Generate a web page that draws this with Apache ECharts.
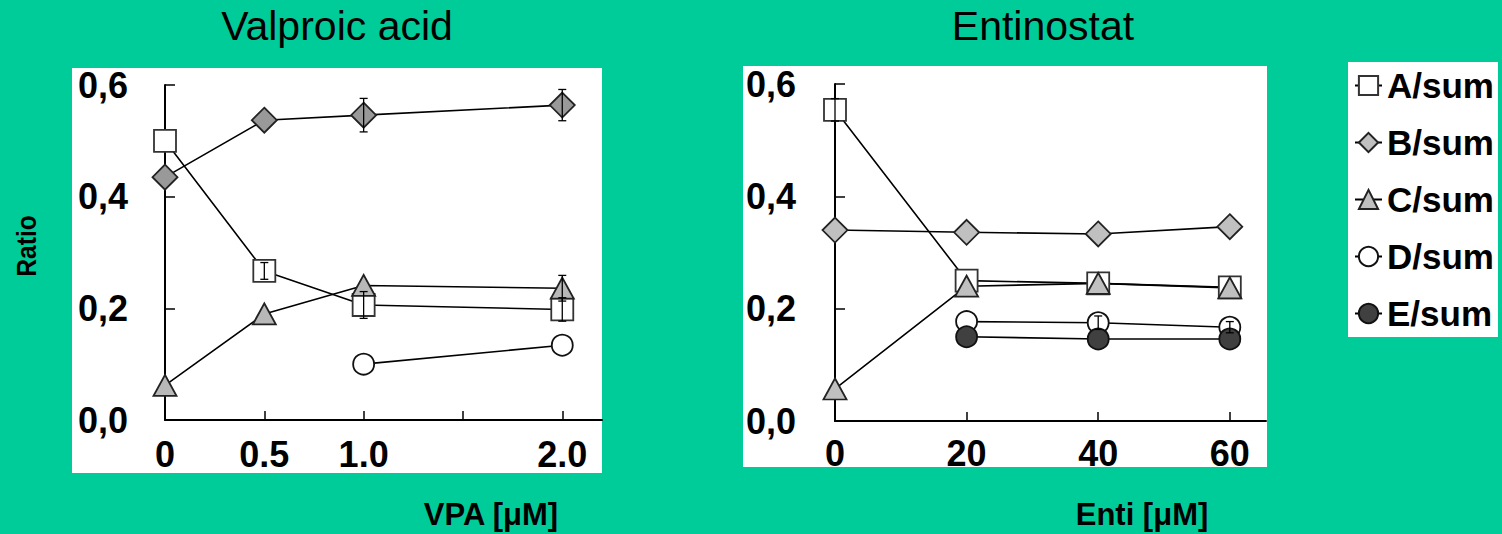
<!DOCTYPE html>
<html><head><meta charset="utf-8">
<script src="https://cdn.jsdelivr.net/npm/echarts@6/dist/echarts.min.js"></script>
<style>html,body{margin:0;padding:0;background:#00CC99;}#c{width:1502px;height:534px;}</style>
</head><body><div id="c"></div>
<script>
// ---------- data ----------
const seriesNames = ['A/sum', 'B/sum', 'C/sum', 'D/sum', 'E/sum'];

const vpaDose = [0, 0.5, 1.0, 2.0];
const vpaA = [0.500, 0.267, 0.206, 0.198];
const vpaB = [0.435, 0.537, 0.546, 0.564];
const vpaC = [0.062, 0.190, 0.241, 0.236];
const vpaD = [null, null, 0.100, 0.134];
const vpaAerr = [0, 0.015, 0.024, 0.021];
const vpaBerr = [0, 0, 0.030, 0.028];
const vpaCerr = [0, 0, 0, 0.023];

const entiDose = [0, 20, 40, 60];
const entiA = [0.554, 0.250, 0.245, 0.238];
const entiB = [0.340, 0.336, 0.333, 0.346];
const entiC = [0.057, 0.240, 0.245, 0.237];
const entiD = [null, 0.177, 0.175, 0.167];
const entiE = [null, 0.150, 0.146, 0.146];
const entiAerr = [0.020, 0, 0, 0];
const entiDerr = [0, 0, 0.012, 0.010];

const vpaTickValues = [0, 0.5, 1.0, 2.0];
const vpaTickLabels = ['0', '0.5', '1.0', '2.0'];
const vpaMinorTicks = [0.5, 1.0, 1.5, 2.0];
const entiTickValues = [0, 20, 40, 60];
const entiTickLabels = ['0', '20', '40', '60'];
const entiMinorTicks = [20, 40, 60];
const ratioTickValues = [0, 0.2, 0.4, 0.6];
const ratioTickLabels = ['0,0', '0,2', '0,4', '0,6'];
const ratioTicks = [0.2, 0.4, 0.6];

const titles = ['Valproic acid', 'Entinostat'];
const xNames = ['VPA [\u03BCM]', 'Enti [\u03BCM]'];
const yName = 'Ratio';

// ---------- helpers ----------
const FF = '"Liberation Sans", Arial, sans-serif';
const pairs = (xs, ys) => xs.map((x, i) => ys[i] == null ? null : [x, ys[i]]).filter(d => d);

const styles = {
  'A/sum': { symbol: 'rect', size: 22, fill: '#ffffff', border: '#333333' },
  'B/sum': { symbol: 'diamond', size: 25, fill: '#999999', border: '#222222' },
  'C/sum': { symbol: 'triangle', size: [23, 21], fill: '#b8b8b8', border: '#222222' },
  'D/sum': { symbol: 'circle', size: 21, fill: '#ffffff', border: '#111111' },
  'E/sum': { symbol: 'circle', size: 21, fill: '#404040', border: '#111111' }
};

function lineSeries(name, idx, xs, ys, fillOverride) {
  const s = styles[name];
  return {
    type: 'line', name, xAxisIndex: idx, yAxisIndex: idx,
    data: pairs(xs, ys),
    symbol: s.symbol, symbolSize: s.size, showAllSymbol: true,
    lineStyle: { color: '#000', width: 1.6 },
    itemStyle: { color: fillOverride || s.fill, borderColor: s.border, borderWidth: 1.8, opacity: 1 },
    emphasis: { disabled: true }, animation: false
  };
}

function errSeries(idx, xs, ys, errs) {
  const data = [];
  xs.forEach((x, i) => { if (ys[i] != null && errs[i] > 0) data.push([x, ys[i], errs[i]]); });
  return {
    type: 'custom', xAxisIndex: idx, yAxisIndex: idx, data, z: 5, silent: true, animation: false,
    encode: { x: 0, y: 1 },
    renderItem(params, api) {
      const x = api.value(0), y = api.value(1), e = api.value(2);
      const hi = api.coord([x, y + e]), lo = api.coord([x, y - e]);
      const w = 4, st = { stroke: '#000', lineWidth: 1.3 };
      return { type: 'group', children: [
        { type: 'line', shape: { x1: hi[0], y1: hi[1], x2: lo[0], y2: lo[1] }, style: st },
        { type: 'line', shape: { x1: hi[0] - w, y1: hi[1], x2: hi[0] + w, y2: hi[1] }, style: st },
        { type: 'line', shape: { x1: lo[0] - w, y1: lo[1], x2: lo[0] + w, y2: lo[1] }, style: st }
      ]};
    }
  };
}

function xAxisOf(idx, max, ticks, labelVals, labels, margin) {
  return {
    type: 'value', gridIndex: idx, min: 0, max,
    axisLine: { show: true, onZero: false, lineStyle: { color: '#000', width: 2 } },
    axisTick: { show: true, inside: true, length: 9, customValues: ticks, lineStyle: { color: '#000', width: 1.5 } },
    axisLabel: {
      customValues: labelVals, margin, color: '#000', fontSize: 36, fontWeight: 'bold', fontFamily: FF,
      formatter: v => { const k = labelVals.indexOf(v); return k >= 0 ? labels[k] : ''; }
    },
    splitLine: { show: false }
  };
}
function yAxisOf(idx, margin) {
  return {
    type: 'value', gridIndex: idx, min: 0, max: 0.6,
    axisLine: { show: true, onZero: false, lineStyle: { color: '#000', width: 2 } },
    axisTick: { show: true, inside: true, length: 10, customValues: ratioTicks, lineStyle: { color: '#000', width: 1.5 } },
    axisLabel: {
      customValues: ratioTickValues, margin, color: '#000', fontSize: 36, fontWeight: 'bold', fontFamily: FF,
      formatter: v => { const k = ratioTickValues.findIndex(t => Math.abs(t - v) < 1e-9); return k >= 0 ? ratioTickLabels[k] : ''; }
    },
    splitLine: { show: false }
  };
}

const chart = echarts.init(document.getElementById('c'), null, { renderer: 'svg' });
chart.setOption({
  backgroundColor: '#00CC99',
  animation: false,
  grid: [
    { left: 165, top: 85, width: 437, height: 335 },
    { left: 835, top: 84, width: 431, height: 337 }
  ],
  xAxis: [
    xAxisOf(0, 2.2, vpaMinorTicks, vpaTickValues, vpaTickLabels, 16),
    xAxisOf(1, 65.5, entiMinorTicks, entiTickValues, entiTickLabels, 14)
  ],
  yAxis: [yAxisOf(0, 37), yAxisOf(1, 39)],
  legend: {
    orient: 'vertical', left: 1349, top: 63, padding: 5, itemWidth: 27, itemHeight: 24, itemGap: 22,
    selectedMode: false,
    textStyle: { color: '#000', fontSize: 35, fontWeight: 'bold', fontFamily: FF, lineHeight: 35 },
    data: seriesNames.map(n => (n === 'B/sum' || n === 'C/sum')
      ? { name: n, itemStyle: { color: '#c0c0c0' } } : { name: n })
  },
  graphic: [
    { type: 'rect', shape: { x: 72, y: 68, width: 530, height: 405 }, style: { fill: '#fff' }, z: 0, silent: true },
    { type: 'rect', shape: { x: 743, y: 66, width: 524, height: 401 }, style: { fill: '#fff' }, z: 0, silent: true },
    { type: 'rect', shape: { x: 1348, y: 62, width: 150, height: 275 }, style: { fill: '#fff' }, z: 0, silent: true },
    { type: 'text', x: 337, y: 26, style: { text: titles[0], fill: '#000', font: 'normal 41px ' + FF, align: 'center', verticalAlign: 'middle' }, z: 1 },
    { type: 'text', x: 1043, y: 26, style: { text: titles[1], fill: '#000', font: 'normal 41px ' + FF, align: 'center', verticalAlign: 'middle' }, z: 1 },
    { type: 'text', x: 491, y: 514, style: { text: xNames[0], fill: '#000', font: 'bold 31px ' + FF, align: 'center', verticalAlign: 'middle' }, z: 1 },
    { type: 'text', x: 1142, y: 514, style: { text: xNames[1], fill: '#000', font: 'bold 31px ' + FF, align: 'center', verticalAlign: 'middle' }, z: 1 },
    { type: 'text', x: 26, y: 246, rotation: Math.PI / 2, scaleX: 0.88, style: { text: yName, fill: '#000', font: 'bold 28px ' + FF, align: 'center', verticalAlign: 'middle' }, z: 1 }
  ],
  series: [
    lineSeries('A/sum', 0, vpaDose, vpaA),
    lineSeries('B/sum', 0, vpaDose, vpaB),
    lineSeries('C/sum', 0, vpaDose, vpaC),
    lineSeries('D/sum', 0, vpaDose, vpaD),
    errSeries(0, vpaDose, vpaA, vpaAerr),
    errSeries(0, vpaDose, vpaB, vpaBerr),
    errSeries(0, vpaDose, vpaC, vpaCerr),
    lineSeries('A/sum', 1, entiDose, entiA),
    lineSeries('B/sum', 1, entiDose, entiB, '#c0c0c0'),
    lineSeries('C/sum', 1, entiDose, entiC, '#c0c0c0'),
    lineSeries('D/sum', 1, entiDose, entiD),
    lineSeries('E/sum', 1, entiDose, entiE),
    errSeries(1, entiDose, entiA, entiAerr),
    errSeries(1, entiDose, entiD, entiDerr)
  ]
});
</script></body></html>
